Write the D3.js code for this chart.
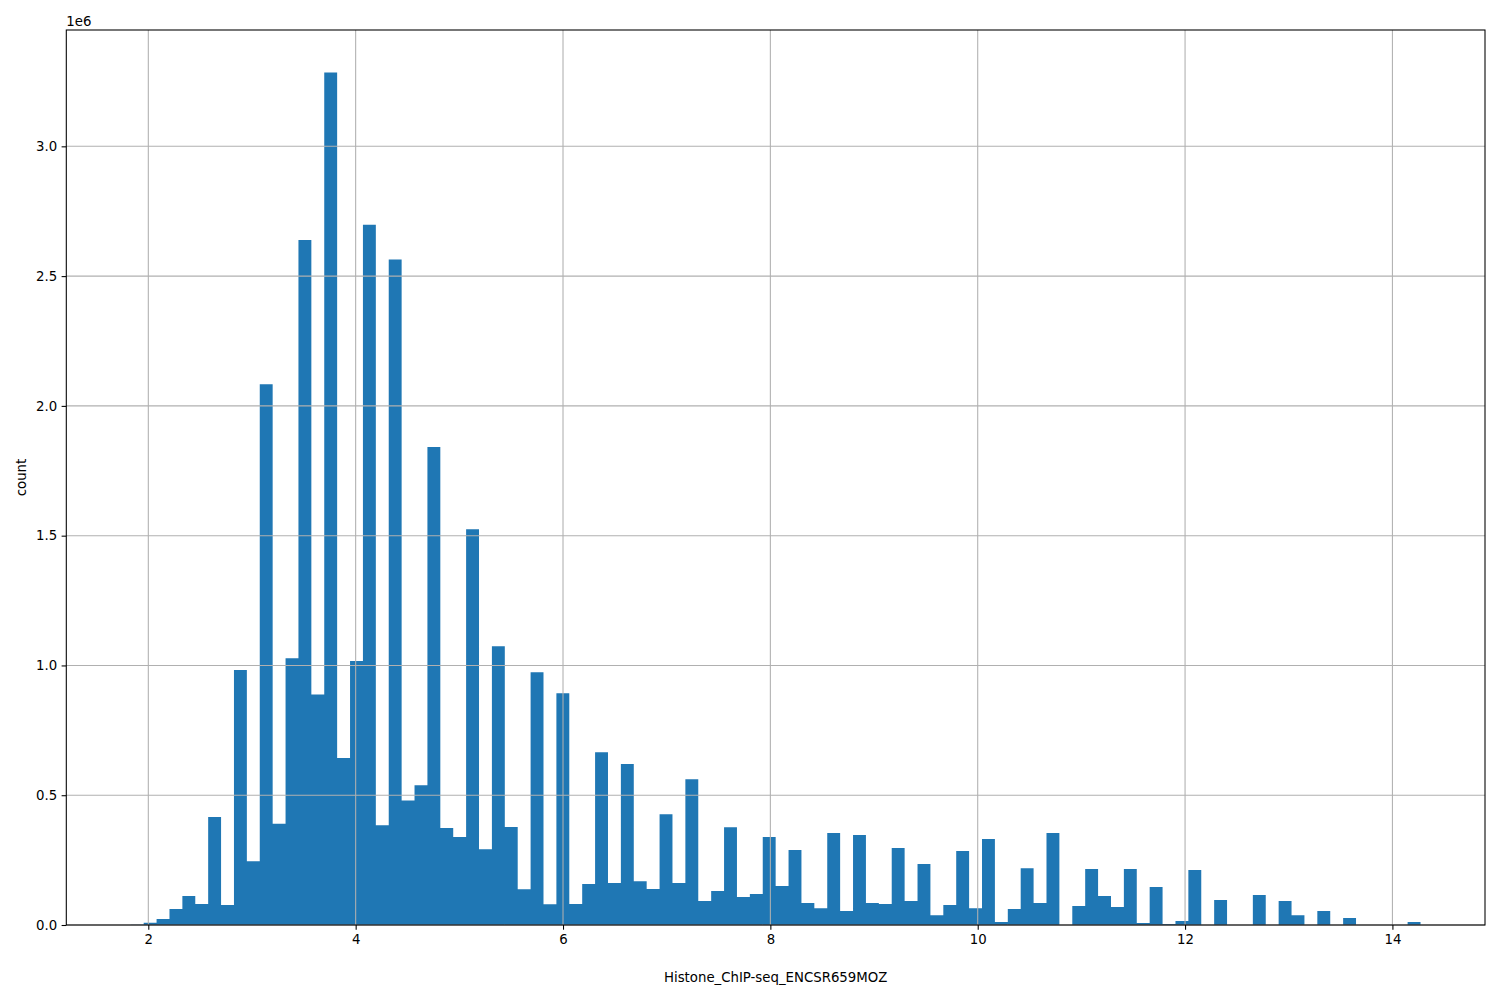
<!DOCTYPE html>
<html>
<head>
<meta charset="utf-8">
<script src="https://cdn.jsdelivr.net/npm/d3@7"></script>
<style>
  html, body { margin: 0; padding: 0; background: #ffffff; }
  svg { display: block; font-family: "DejaVu Sans", sans-serif; }
</style>
</head>
<body>
<svg id="chart" width="1500" height="1000"></svg>
<script>
// ---- data (100 bins) ----
const binStart = 1.831;
const binWidth = 0.1244;
const counts = [
  1000, 9000, 23000, 62000, 112000, 81000, 416000, 77000, 982000, 246000,
  2083000, 390000, 1028000, 2639000, 888000, 3284000, 643000, 1017000, 2698000, 384000,
  2564000, 480000, 538000, 1842000, 374000, 339000, 1525000, 292000, 1074000, 378000,
  138000, 974000, 80000, 893000, 81000, 158000, 666000, 162000, 620000, 169000,
  139000, 427000, 162000, 562000, 92000, 131000, 377000, 108000, 119000, 339000,
  150000, 289000, 85000, 65000, 354000, 54000, 347000, 85000, 81000, 297000,
  92000, 235000, 38000, 77000, 285000, 65000, 331000, 12000, 62000, 219000,
  85000, 354000, 0, 73000, 216000, 112000, 69000, 216000, 8000, 146000,
  4000, 15000, 212000, 0, 96000, 0, 0, 116000, 0, 92000,
  38000, 0, 54000, 0, 27000, 0, 0, 0, 0, 12000
];
const xTicks = [2, 4, 6, 8, 10, 12, 14];
const yTicks = [0, 500000, 1000000, 1500000, 2000000, 2500000, 3000000];
const yTickLabels = ["0.0", "0.5", "1.0", "1.5", "2.0", "2.5", "3.0"];
const xLabel = "Histone_ChIP-seq_ENCSR659MOZ";
const yLabel = "count";
const offsetText = "1e6";

// ---- layout ----
const plot = { left: 66.3, right: 1485, top: 30, bottom: 925 };
const barColor = "#1f77b4";
const gridColor = "#b0b0b0";

const bins = counts.map((c, i) => ({ x0: binStart + i * binWidth, x1: binStart + (i + 1) * binWidth, count: c }));
const dataMin = bins[0].x0, dataMax = bins[bins.length - 1].x1;
const pad = (dataMax - dataMin) * 0.05;

const x = d3.scaleLinear().domain([dataMin - pad, dataMax + pad]).range([plot.left, plot.right]);
const y = d3.scaleLinear().domain([0, d3.max(counts) * 1.05]).range([plot.bottom, plot.top]);

const svg = d3.select("#chart");

// bars: one path so that adjacent bars show no seams
const barPath = d3.path();
bins.filter(b => b.count > 0).forEach(b => {
  barPath.rect(x(b.x0), y(b.count), x(b.x1) - x(b.x0), y(0) - y(b.count));
});
svg.append("path")
  .attr("d", barPath.toString())
  .attr("fill", barColor)
  .attr("fill-rule", "nonzero");

// grid (drawn above bars as in the reference)
const grid = svg.append("g");
grid.selectAll("line.gx").data(xTicks).join("line")
  .attr("x1", d => x(d)).attr("x2", d => x(d))
  .attr("y1", plot.top).attr("y2", plot.bottom)
  .attr("stroke", gridColor).attr("stroke-width", 1.07);
grid.selectAll("line.gy").data(yTicks).join("line")
  .attr("x1", plot.left).attr("x2", plot.right)
  .attr("y1", d => y(d)).attr("y2", d => y(d))
  .attr("stroke", gridColor).attr("stroke-width", 1.07);

// axes
const xAxis = d3.axisBottom(x).tickValues(xTicks).tickFormat(d3.format("d")).tickSize(4.7).tickPadding(4.5);
const yAxis = d3.axisLeft(y).tickValues(yTicks).tickFormat((d, i) => yTickLabels[i]).tickSize(4.7).tickPadding(4.5);

const gx = svg.append("g").attr("transform", `translate(0,${plot.bottom})`).call(xAxis);
const gy = svg.append("g").attr("transform", `translate(${plot.left},0)`).call(yAxis);
[gx, gy].forEach(g => {
  g.select(".domain").remove();
  g.selectAll(".tick line").attr("stroke", "#000").attr("stroke-width", 1.07);
  g.selectAll(".tick text").attr("fill", "#000").style("font-size", "13.3px").style("font-family", "DejaVu Sans");
});

// frame
svg.append("rect")
  .attr("x", plot.left).attr("y", plot.top)
  .attr("width", plot.right - plot.left).attr("height", plot.bottom - plot.top)
  .attr("fill", "none").attr("stroke", "#000").attr("stroke-width", 1.07);

// labels
svg.append("text")
  .attr("x", (plot.left + plot.right) / 2).attr("y", 982)
  .attr("text-anchor", "middle").style("font-size", "13.3px").text(xLabel);
svg.append("text")
  .attr("transform", `translate(26,${(plot.top + plot.bottom) / 2}) rotate(-90)`)
  .attr("text-anchor", "middle").style("font-size", "13.3px").text(yLabel);
svg.append("text")
  .attr("x", plot.left).attr("y", 26)
  .attr("text-anchor", "start").style("font-size", "13.3px").text(offsetText);
</script>
</body>
</html>
